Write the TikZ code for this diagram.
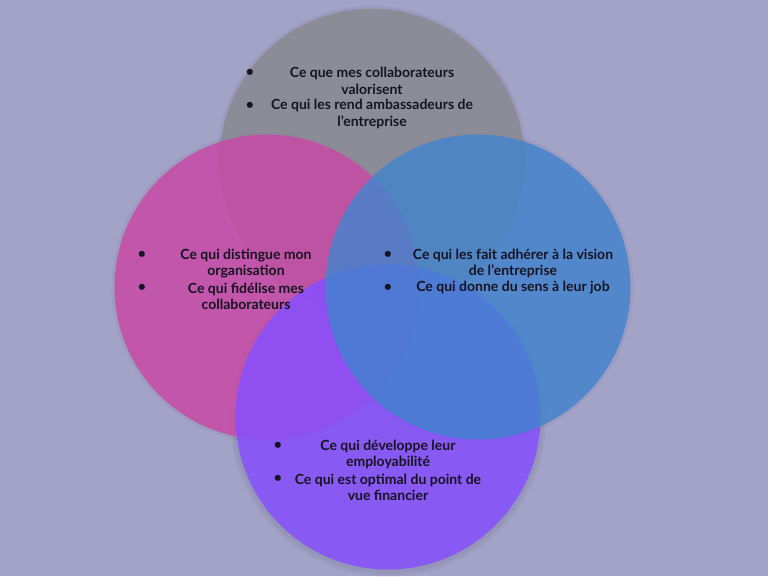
\documentclass[tikz,border=0pt]{standalone}
\usepackage{fontspec}
\setmainfont{Lato}
\usepackage{xcolor}
\definecolor{backdrop}{RGB}{163,163,200}
\definecolor{grayset}{RGB}{138,137,146}
\definecolor{pinkset}{RGB}{200,74,167}
\definecolor{blueset}{RGB}{64,132,206}
\definecolor{purpleset}{RGB}{135,79,254}
\definecolor{inktext}{RGB}{22,20,34}
\tikzset{venn/.style={circle, draw=none, fill opacity=0.85, minimum size=305pt},
    halo/.style={circle, draw=none, fill=black, fill opacity=0.04, minimum size=#1},
    halo/.default=311pt,
    item/.style={align=center, text=inktext, inner sep=0pt,
        font=\bfseries\fontsize{14}{16.5}\selectfont},
    dot/.style={text=inktext, inner sep=0pt, font=\bfseries\fontsize{14}{16.5}\selectfont}}

\begin{document}
\begin{tikzpicture}[x=1pt, y=-1pt]
    \useasboundingbox[fill=backdrop] (0,0) rectangle (768,576);
    % soft shadows
    \node[halo] (hgray) at (372,161) {};
    \node[halo] (hpink) at (267,287) {};
    \node[halo] (hblue) at (478,287) {};
    \node[halo] (hpurple) at (388,418) {};
    \node[halo=316pt] (hpurple2) at (388,419) {};
    % the four sets
    \node[venn, fill=grayset] (gray) at (372,161) {};
    \node[venn, fill=pinkset] (pink) at (267,287) {};
    \node[venn, fill=purpleset] (purple) at (388,417) {};
    \node[venn, fill=blueset, fill opacity=0.8] (blue) at (478,287) {};
    % top
    \node[dot] (gdot1) at (250,73) {\textbullet};
    \node[item] (gitem1) at (372,81) {Ce que mes collaborateurs\\valorisent};
    \node[dot] (gdot2) at (250,106) {\textbullet};
    \node[item] (gitem2) at (372,114) {Ce qui les rend ambassadeurs de\\l'entreprise};
    % left
    \node[dot] (pdot1) at (142,255) {\textbullet};
    \node[item] (pitem1) at (246,263.5) {Ce qui distingue mon\\organisation};
    \node[dot] (pdot2) at (142,288) {\textbullet};
    \node[item] (pitem2) at (246,296.5) {Ce qui fidélise mes\\collaborateurs};
    % right
    \node[dot] (bdot1) at (388,255) {\textbullet};
    \node[item] (bitem1) at (513,263.5) {Ce qui les fait adhérer à la vision\\de l'entreprise};
    \node[dot] (bdot2) at (388,288) {\textbullet};
    \node[item] (bitem2) at (513,288) {Ce qui donne du sens à leur job};
    % bottom
    \node[dot] (udot1) at (278,446) {\textbullet};
    \node[item] (uitem1) at (388,454.5) {Ce qui développe leur\\employabilité};
    \node[dot] (udot2) at (278,479) {\textbullet};
    \node[item] (uitem2) at (388,487.5) {Ce qui est optimal du point de\\vue financier};
\end{tikzpicture}
\end{document}
